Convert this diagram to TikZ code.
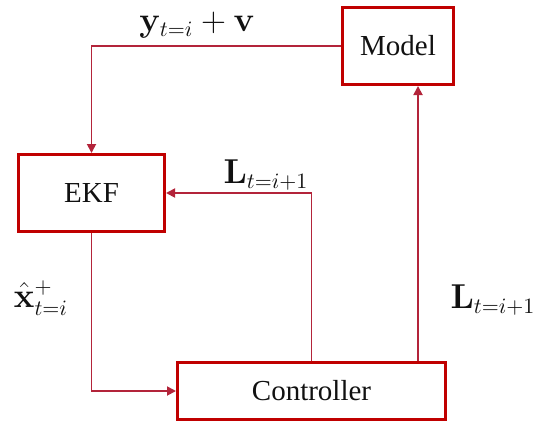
\documentclass[tikz,border=0pt]{standalone}
\usepackage{amsmath,amssymb}
\usepackage[no-math]{fontspec}
\setmainfont{Liberation Serif}
\usepackage{tikz}
\usetikzlibrary{arrows.meta,positioning,calc}
\definecolor{boxred}{HTML}{C00000}
\definecolor{linkred}{HTML}{B3243A}
\definecolor{text}{HTML}{111111}
\tikzset{
  block/.style={draw=boxred, line width=1.5pt, align=center, inner sep=3pt,
                text=text, font=\fontsize{14.5}{17}\selectfont},
  arrow/.style={-{Triangle[length=4.5pt,width=4.5pt]}, line width=0.9pt, draw=linkred},
  sig/.style={text=text, font=\fontsize{16}{19}\selectfont, inner sep=0pt}
}
\begin{document}
\begin{tikzpicture}[x=0.5pt,y=-0.5pt]
        \useasboundingbox (0,0) rectangle (549,423);

        % blocks
        \node[block,minimum width=55.5pt,minimum height=38.5pt] (model) at (398,46) {Model};
        \node[block,minimum width=73pt,minimum height=38.5pt] (ekf) at (91.5,193) {EKF};
        \node[block,minimum width=134pt,minimum height=28.5pt] (ctrl) at (311.5,391) {Controller};

        % signal paths
        \draw[arrow] (model.west) -| (ekf.north);
        \draw[arrow] (ctrl.north) |- (ekf.east);
        \draw[arrow] (ctrl.north -| {418,0}) -- (model.south -| {418,0});
        \draw[arrow] (ekf.south) |- (ctrl.west);

        % signal labels
        \node[sig] (ymeas) at (197,25) {$\mathbf{y}_{t=i}+\mathbf{v}$};
        \node[sig] (lfb) at (266,175) {$\mathbf{L}_{t=i+1}$};
        \node[sig] (lmod) at (493,300) {$\mathbf{L}_{t=i+1}$};
        \node[sig] (xest) at (41,298) {$\hat{\mathbf{x}}_{t=i}^{+}$};
      \end{tikzpicture}
\end{document}
